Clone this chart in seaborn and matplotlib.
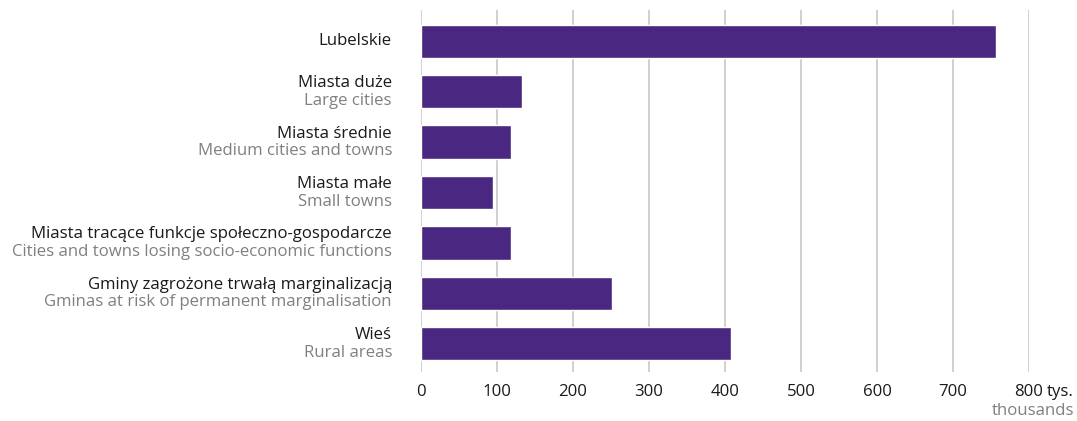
import matplotlib
matplotlib.use("Agg")
import matplotlib.pyplot as plt
import matplotlib.transforms as mtransforms
import seaborn as sns
import pandas as pd

# data (thousands of people)
labels_pl = ["Lubelskie", "Miasta duże", "Miasta średnie", "Miasta małe",
             "Miasta tracące funkcje społeczno-gospodarcze",
             "Gminy zagrożone trwałą marginalizacją", "Wieś"]
labels_en = ["", "Large cities", "Medium cities and towns", "Small towns",
             "Cities and towns losing socio-economic functions",
             "Gminas at risk of permanent marginalisation", "Rural areas"]
values = [757, 133, 119, 95, 119, 251, 408]
xticks = [0, 100, 200, 300, 400, 500, 600, 700, 800]

sns.set_style("white")
plt.rcParams["font.family"] = ["Open Sans", "DejaVu Sans"]
FS = 12.1

df = pd.DataFrame({"cat": labels_pl, "value": values})

fig = plt.figure(figsize=(10.77, 4.21), dpi=100)
ax = fig.add_axes([421 / 1077, 1 - 372 / 421, (1029 - 421) / 1077, (372 - 10) / 421])

sns.barplot(data=df, x="value", y="cat", orient="h", color="#4a2781",
            saturation=1, width=0.66, ax=ax, zorder=3)

ax.set_xlim(0, 800)
ax.set_ylim(6.56, -0.62)
ax.set_xticks(xticks)
ax.set_xticklabels([str(t) for t in xticks], fontsize=FS, color="#1a1a1a")
ax.tick_params(axis="x", length=0, pad=9)
ax.grid(axis="x", color="#c8c8c8", linewidth=1.2, zorder=0)
ax.set_yticks([])
ax.set_xlabel("")
ax.set_ylabel("")
sns.despine(ax=ax, left=True, bottom=True)

trans = mtransforms.offset_copy(ax.get_yaxis_transform(), fig=fig, x=-29, y=0, units="dots")
for i, (pl, en) in enumerate(zip(labels_pl, labels_en)):
    if en:
        ax.text(0, i, pl, transform=mtransforms.offset_copy(trans, fig=fig, y=8.5, units="dots"),
                ha="right", va="center", fontsize=FS, color="#1a1a1a")
        ax.text(0, i, en, transform=mtransforms.offset_copy(trans, fig=fig, y=-9, units="dots"),
                ha="right", va="center", fontsize=FS, color="#808080")
    else:
        ax.text(0, i, pl, transform=trans, ha="right", va="center",
                fontsize=FS, color="#1a1a1a")

# unit label next to the last tick, aligned like the tick labels
unit_tr = mtransforms.offset_copy(ax.get_xaxis_transform(), fig=fig, x=18, y=-12.5, units="dots")
ax.text(800, 0, "tys.", transform=unit_tr, ha="left", va="top",
        fontsize=FS, color="#1a1a1a")
fig.text(1074 / 1077, 1 - 411 / 421, "thousands", ha="right", va="center",
         fontsize=FS, color="#808080")

fig.savefig("out.png", dpi=100)
